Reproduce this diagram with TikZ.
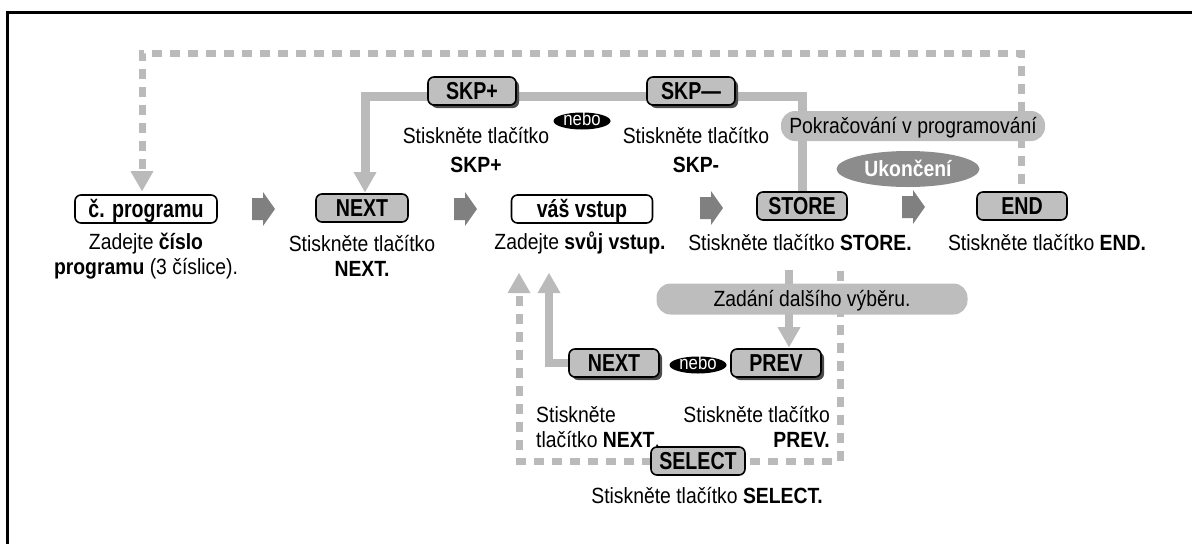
\documentclass[tikz,border=0pt]{standalone}
\usepackage{fontspec}
\setmainfont{Liberation Sans}[FakeStretch=0.88]
\newfontfamily\keyfont{Liberation Sans}[FakeStretch=0.8]
\usetikzlibrary{arrows.meta,shapes.misc,shapes.geometric,shadows}
\definecolor{keygray}{gray}{0.75}
\definecolor{linegray}{gray}{0.73}
\definecolor{pillgray}{gray}{0.74}
\definecolor{arrowgray}{gray}{0.5}
\definecolor{ovalgray}{gray}{0.55}
\definecolor{shadowgray}{gray}{0.3}
\newcommand{\steparrow}[1]{\fill[arrowgray] (#1) ++(0,11) -- ++(11,0) -- ++(0,6)
	-- ++(12,-17) -- ++(-12,-17) -- ++(0,6) -- ++(-11,0) -- cycle;}
\tikzset{
	keybox/.style={draw=black, line width=1.6pt, rounded corners=6pt, fill=keygray,
		minimum height=28pt, inner sep=0pt, text height=17.5pt, text depth=0pt,
		font=\keyfont\bfseries\fontsize{24.5}{24.5}\selectfont},
	entrybox/.style={keybox, fill=white},
	shadowkey/.style={keybox, drop shadow={shadow xshift=3pt, shadow yshift=-3pt, fill=shadowgray, opacity=1}},
	pill/.style={rectangle, rounded corners=14pt, fill=pillgray, inner sep=0pt, text height=15pt, text depth=0pt},
	orlabel/.style={ellipse, fill=black, text=white, inner sep=0pt, minimum width=57pt, minimum height=17pt,
		text height=9pt, text depth=0pt, font=\fontsize{19}{19}\selectfont},
	note/.style={align=center, inner sep=0pt},
	flowline/.style={draw=linegray, line width=9pt},
	loopline/.style={draw=linegray, line width=7pt, dash pattern=on 10pt off 8pt},
}
\begin{document}
\begin{tikzpicture}[x=1pt,y=1pt,>={Triangle[width=23pt,length=20pt,line width=0pt]},
	font=\fontsize{22}{24.5}\selectfont]
\useasboundingbox (0,0) rectangle (1192,-544);
\draw[line width=3pt] (7,-544) -- (7,-12) -- (1192,-12);

% main row
\node[entrybox, minimum width=142pt] (prog) at (146,-209) {č. programu};
\node[keybox, minimum width=92pt] (next) at (362,-208) {NEXT};
\node[entrybox, minimum width=141pt] (vstup) at (582,-209) {váš vstup};
\node[keybox, minimum width=90pt] (store) at (802,-206) {STORE};
\node[keybox, minimum width=90pt] (endkey) at (1022,-206) {END};
\steparrow{252,-209}
\steparrow{454,-209}
\steparrow{700,-208}
\steparrow{902,-207}

% lower choice
\node[shadowkey, minimum width=90pt] (next2) at (614,-363) {NEXT};
\node[shadowkey, minimum width=90pt] (prev) at (776,-363) {PREV};

% loops
\coordinate (endtop) at (1021,-184);
\coordinate (topright) at (1021,-53);
\coordinate (topleft) at (142,-53);
\draw[loopline,->,shorten >=3pt] (endtop) -- (topright) -- (topleft) -- (topleft |- prog.north);
\coordinate (skpleft) at (365,-96);
\draw[flowline,->,shorten >=1pt] (store.north) |- (skpleft) -- (skpleft |- next.north);
\coordinate (storedown) at (789,-270);
\draw[flowline,line width=8pt,->,shorten >=1pt] (storedown) -- (storedown |- prev.north);
\coordinate (loopstart) at (840,-271);
\coordinate (loopbr) at (840,-461);
\coordinate (loopbl) at (519,-461);
\coordinate (looptip) at (519,-273);
\draw[loopline,->] (loopstart) -- (loopbr) -- (loopbl) -- (looptip);
\coordinate (nextup) at (549,-273);
\draw[flowline,line width=8pt,->] (next2.west) -| (nextup);

\node[shadowkey, minimum width=88pt] (skpplus) at (472,-91) {SKP+};
\node[shadowkey, minimum width=88pt] (skpminus) at (691,-91) {SKP—};
\node[keybox, minimum width=94pt] (select) at (698,-461) {SELECT};
\node[orlabel] (or1) at (582,-121) {nebo};
\node[orlabel] (or2) at (698,-365) {nebo};
\node[pill, minimum width=264pt, minimum height=30pt] (goon) at (913,-126) {Pokračování v programování};
\node[pill, minimum width=311pt, minimum height=31pt] (again) at (812,-299) {Zadání dalšího výběru.};
\node[ellipse, fill=ovalgray, text=white, inner sep=0pt, minimum width=143pt, minimum height=36pt,
	text height=15pt, text depth=0pt, font=\bfseries\fontsize{22}{24.5}\selectfont] (quit) at (908,-169) {Ukončení};

% texts
\node[note] (progtxt) at (146,-256) {Zadejte \textbf{číslo}\\\textbf{programu} (3 číslice).};
\node[note] (nexttxt) at (362,-256) {Stiskněte tlačítko\\\textbf{NEXT.}};
\node[note] (vstuptxt) at (580,-243) {Zadejte \textbf{svůj vstup.}};
\node[note] (storetxt) at (800,-243) {Stiskněte tlačítko \textbf{STORE.}};
\node[note] (endtxt) at (1047,-243) {Stiskněte tlačítko \textbf{END.}};
\node[note] (skpptxt) at (476,-150) {Stiskněte tlačítko\\[5pt]\textbf{SKP+}};
\node[note] (skpmtxt) at (696,-150) {Stiskněte tlačítko\\[5pt]\textbf{SKP-}};
\node[note, align=left, anchor=west] (next2txt) at (536,-427) {Stiskněte\\tlačítko \textbf{NEXT}.};
\node[note, align=right, anchor=east] (prevtxt) at (830,-427) {Stiskněte tlačítko\\\textbf{PREV.}};
\node[note] (selecttxt) at (707,-496) {Stiskněte tlačítko \textbf{SELECT.}};
\end{tikzpicture}
\end{document}
